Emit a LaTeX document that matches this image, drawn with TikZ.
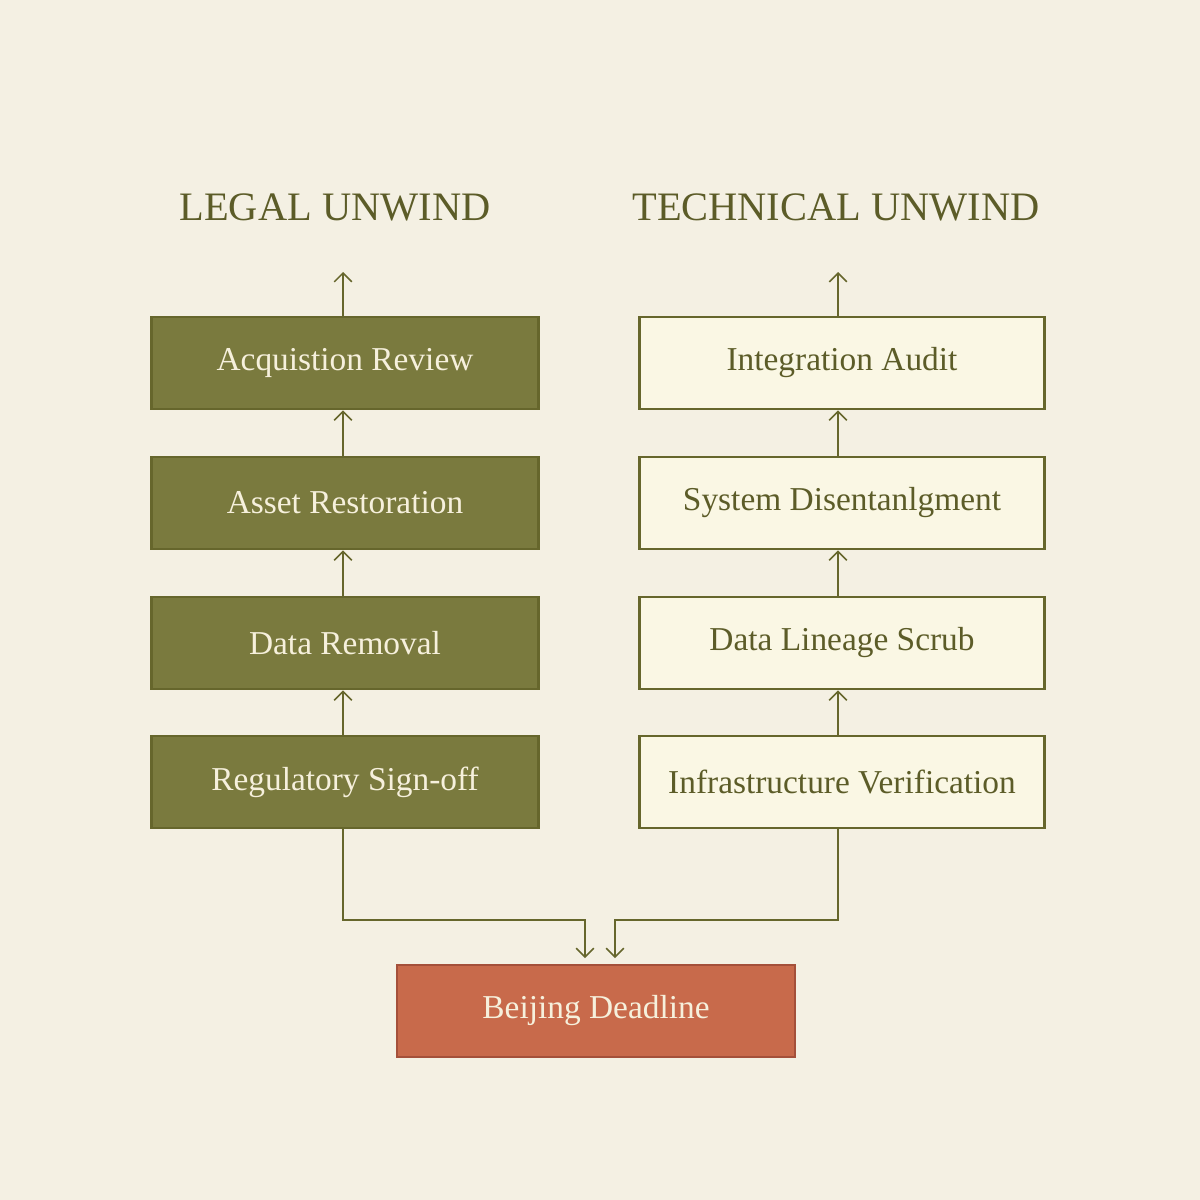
\documentclass[tikz,border=0pt]{standalone}
\usepackage{fontspec}
\setmainfont{Liberation Serif}
\usetikzlibrary{arrows.meta}
\definecolor{bg}{HTML}{F4F0E3}
\definecolor{olive}{HTML}{7A7A3E}
\definecolor{oliveb}{HTML}{66662C}
\definecolor{lightf}{HTML}{FAF7E4}
\definecolor{darktxt}{HTML}{5C5C28}
\definecolor{redf}{HTML}{C86A4B}
\definecolor{redb}{HTML}{A4503A}
\definecolor{ltxt}{HTML}{F6F0DC}
\begin{document}
\begin{tikzpicture}[x=0.02cm,y=-0.02cm,
  dark/.style={draw=oliveb,line width=1.6pt,fill=olive,text=ltxt,minimum width=7.74cm,minimum height=1.84cm,font=\fontsize{19}{22}\selectfont},
  light/.style={draw=oliveb,line width=1.6pt,fill=lightf,text=darktxt,minimum width=8.1cm,minimum height=1.84cm,font=\fontsize{19}{22}\selectfont},
  redbox/.style={draw=redb,line width=1.6pt,fill=redf,text=ltxt,minimum width=7.96cm,minimum height=1.84cm,font=\fontsize{19}{22}\selectfont},
  head/.style={text=darktxt,font=\fontsize{23}{26}\selectfont},
  conn/.style={draw=oliveb,line width=0.9pt,-{Straight Barb[length=5pt,width=10pt]}}]
\fill[bg] (0,0) rectangle (1200,1200);
\useasboundingbox (0,0) rectangle (1200,1200);
\node[head] (hl) at (335,207) {LEGAL UNWIND};
\node[head] (hr) at (836,207) {TECHNICAL UNWIND};
\node[dark] (l1) at (345,363) {Acquistion Review};
\node[dark] (l2) at (345,503) {Asset Restoration};
\node[dark] (l3) at (345,643) {Data Removal};
\node[dark] (l4) at (345,782) {Regulatory Sign-off};
\node[light] (r1) at (842,363) {Integration Audit};
\node[light] (r2) at (842,503) {System Disentanlgment};
\node[light] (r3) at (842,643) {Data Lineage Scrub};
\node[light] (r4) at (842,782) {Infrastructure Verification};
\node[redbox] (b) at (596,1011) {Beijing Deadline};
\coordinate (tl) at (343,272);
\coordinate (tr) at (838,272);
\draw[conn] (l1.north -| tl) -- (tl);
\draw[conn] (l2.north -| tl) -- (l1.south -| tl);
\draw[conn] (l3.north -| tl) -- (l2.south -| tl);
\draw[conn] (l4.north -| tl) -- (l3.south -| tl);
\draw[conn] (r1.north -| tr) -- (tr);
\draw[conn] (r2.north -| tr) -- (r1.south -| tr);
\draw[conn] (r3.north -| tr) -- (r2.south -| tr);
\draw[conn] (r4.north -| tr) -- (r3.south -| tr);
\coordinate (bl) at (585,958);
\coordinate (br) at (615,958);
\draw[conn] (l4.south -| tl) -- (343,920) -- (585,920) -- (bl);
\draw[conn] (r4.south -| tr) -- (838,920) -- (615,920) -- (br);
\end{tikzpicture}
\end{document}
